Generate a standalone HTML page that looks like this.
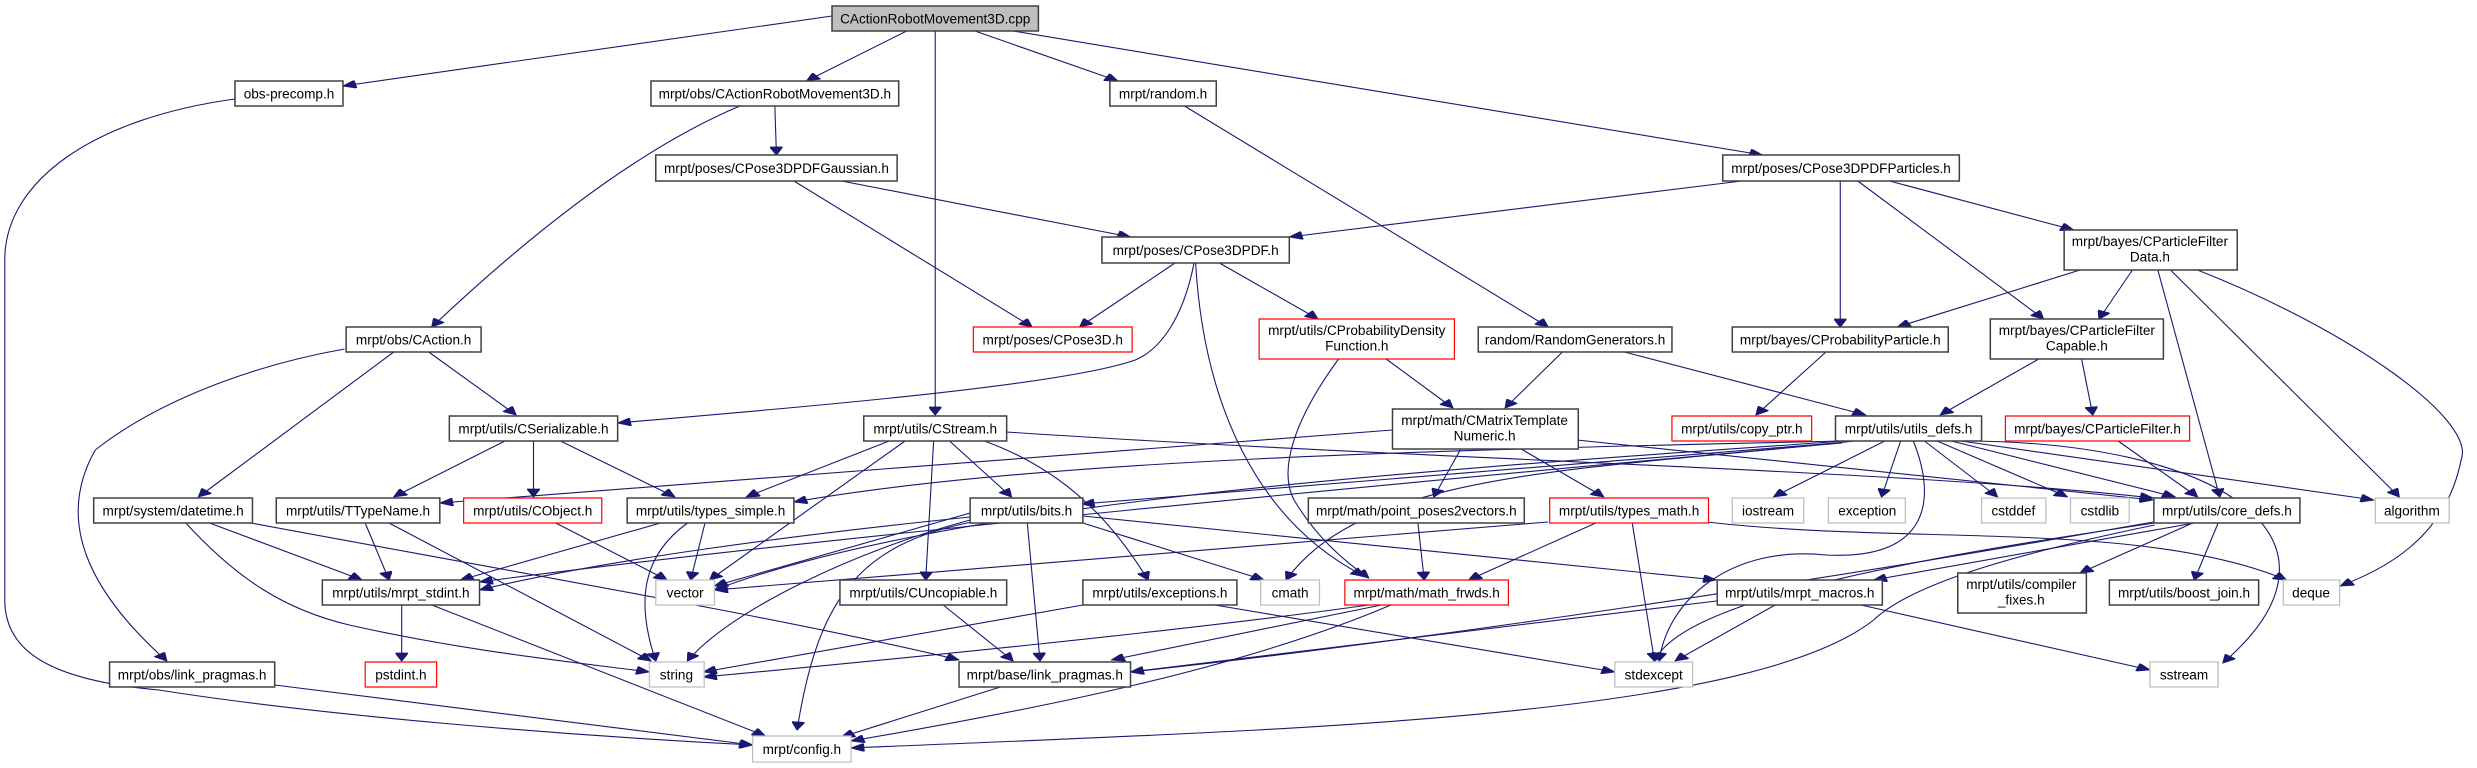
<!DOCTYPE html>
<html><head><meta charset="utf-8"><style>
html,body{margin:0;padding:0;background:#fff;}
svg{display:block;}
text{font-family:"Liberation Sans",Arial,sans-serif;font-size:13.6px;text-anchor:middle;fill:#000;}
.e{fill:none;stroke:#191970;stroke-width:1.1;vector-effect:non-scaling-stroke;}
.n{fill:#fff;stroke:#404040;stroke-width:1.5;vector-effect:non-scaling-stroke;}
.r{fill:#fff;stroke:#ff0000;stroke-width:1.2;vector-effect:non-scaling-stroke;}
.g{fill:#fff;stroke:#bfbfbf;stroke-width:1.3;vector-effect:non-scaling-stroke;}
</style></head><body>
<svg width="2477" height="768" viewBox="0 0 2477 768">
<defs>
<marker id="a" viewBox="0 0 10 10" refX="10" refY="5" markerWidth="9" markerHeight="8" markerUnits="userSpaceOnUse" orient="auto"><path d="M0,0 L10,5 L0,10 z" fill="#191970" stroke="#191970"/></marker>
</defs>
<g transform="scale(1.5878,1)">
<g marker-end="url(#a)">
<path class="e" d="M524,16 L216,86"/>
<path class="e" d="M571,31 L508,81"/>
<path class="e" d="M589,31 L589,415"/>
<path class="e" d="M614,31 L704,81"/>
<path class="e" d="M638,31 L1110,155"/>
<path class="e" d="M466,106 C400,150 330,240 272,327"/>
<path class="e" d="M488,106 L489,155"/>
<path class="e" d="M148,99 C60,118 3,180 3,260 L3,600 C3,650 30,680 100,690 C200,715 350,735 474,745"/>
<path class="e" d="M530,181 L712,237"/>
<path class="e" d="M500,181 L650,327"/>
<path class="e" d="M746,106 L975,327"/>
<path class="e" d="M1097,181 L812,237"/>
<path class="e" d="M1159,181 L1159,327"/>
<path class="e" d="M1170,181 L1287,319"/>
<path class="e" d="M1190,181 L1306,230"/>
<path class="e" d="M740,263 L680,327"/>
<path class="e" d="M768,263 L830,319"/>
<path class="e" d="M752,263 C745,320 730,350 715,360 C670,385 520,405 389,423"/>
<path class="e" d="M753,263 C758,400 790,520 859,576"/>
<path class="e" d="M873,359 L915,408"/>
<path class="e" d="M843,359 C815,420 805,470 815,500 C830,540 850,565 862,578"/>
<path class="e" d="M984,352 L948,408"/>
<path class="e" d="M1023,352 L1175,415"/>
<path class="e" d="M1310,270 L1195,327"/>
<path class="e" d="M1343,270 L1322,319"/>
<path class="e" d="M1359,270 L1398,497"/>
<path class="e" d="M1367,270 L1511,497"/>
<path class="e" d="M1384,270 C1480,330 1560,420 1550,460 C1540,540 1500,570 1474,586"/>
<path class="e" d="M1150,352 L1106,415"/>
<path class="e" d="M1284,359 L1222,415"/>
<path class="e" d="M1311,359 L1318,415"/>
<path class="e" d="M1334,441 L1384,497"/>
<path class="e" d="M248,352 L125,497"/>
<path class="e" d="M270,352 L325,415"/>
<path class="e" d="M217,349 C160,365 100,400 60,450 C35,520 55,590 105,661"/>
<path class="e" d="M318,441 L248,497"/>
<path class="e" d="M336,441 L336,497"/>
<path class="e" d="M353,441 L425,497"/>
<path class="e" d="M560,441 L470,497"/>
<path class="e" d="M570,441 L447,580"/>
<path class="e" d="M598,441 L637,497"/>
<path class="e" d="M588,441 L583,580"/>
<path class="e" d="M620,441 C670,470 700,520 723,580"/>
<path class="e" d="M634,432 C900,460 1200,470 1356,498"/>
<path class="e" d="M877,430 L277,503"/>
<path class="e" d="M920,449 L903,497"/>
<path class="e" d="M958,449 L1010,497"/>
<path class="e" d="M993,440 L1356,500"/>
<path class="e" d="M230,523 L245,580"/>
<path class="e" d="M245,523 L410,661"/>
<path class="e" d="M132,523 L228,580"/>
<path class="e" d="M117,523 C150,580 180,610 220,625 C290,650 350,660 409,672"/>
<path class="e" d="M158,523 C300,565 500,620 604,660"/>
<path class="e" d="M416,523 L290,580"/>
<path class="e" d="M433,523 C405,555 400,600 413,661"/>
<path class="e" d="M444,523 L435,580"/>
<path class="e" d="M350,523 L420,580"/>
<path class="e" d="M253,605 L253,661"/>
<path class="e" d="M272,605 L482,736"/>
<path class="e" d="M173,685 L474,745"/>
<path class="e" d="M611,517 C500,535 380,560 302,590"/>
<path class="e" d="M611,513 L450,586"/>
<path class="e" d="M611,520 C540,550 460,610 433,661"/>
<path class="e" d="M682,523 L796,580"/>
<path class="e" d="M647,523 L655,661"/>
<path class="e" d="M682,516 L1081,580"/>
<path class="e" d="M612,522 C540,545 515,600 502,730"/>
<path class="e" d="M594,605 L638,661"/>
<path class="e" d="M682,605 L443,672"/>
<path class="e" d="M765,605 L1017,672"/>
<path class="e" d="M862,605 C750,630 560,660 443,677"/>
<path class="e" d="M870,605 L700,660"/>
<path class="e" d="M876,605 C780,670 650,710 536,741"/>
<path class="e" d="M630,687 L530,737"/>
<path class="e" d="M893,523 L897,580"/>
<path class="e" d="M1005,523 L925,580"/>
<path class="e" d="M1028,523 L1042,661"/>
<path class="e" d="M975,522 L450,590"/>
<path class="e" d="M1075,522 C1200,545 1350,520 1440,580"/>
<path class="e" d="M1160,441 C900,450 650,460 500,502"/>
<path class="e" d="M1162,441 C900,470 600,500 450,590"/>
<path class="e" d="M1156,443 L681,504"/>
<path class="e" d="M1168,441 C1000,470 860,470 810,580"/>
<path class="e" d="M1187,441 L1117,497"/>
<path class="e" d="M1197,441 L1185,497"/>
<path class="e" d="M1212,441 L1258,497"/>
<path class="e" d="M1220,441 L1302,497"/>
<path class="e" d="M1229,441 L1370,497"/>
<path class="e" d="M1235,441 L1495,500"/>
<path class="e" d="M1205,441 C1220,500 1215,560 1150,555 C1090,545 1050,600 1045,661"/>
<path class="e" d="M1233,441 C1400,440 1490,540 1400,663"/>
<path class="e" d="M1160,443 C900,480 500,540 302,582"/>
<path class="e" d="M1382,523 L1180,580"/>
<path class="e" d="M1381,523 L1310,573"/>
<path class="e" d="M1397,523 L1382,580"/>
<path class="e" d="M1357,525 C1250,560 1200,590 1180,620 C1100,720 800,730 536,748"/>
<path class="e" d="M1356,522 C1150,580 900,640 712,672"/>
<path class="e" d="M1357,523 C1200,560 1060,600 1042,661"/>
<path class="e" d="M1118,605 L1055,661"/>
<path class="e" d="M1172,605 L1354,670"/>
<path class="e" d="M1081,601 L712,672"/>
</g>

<rect class="n" x="524" y="6" width="130" height="25" style="fill:#bfbfbf"/><text transform="translate(589,23.5) scale(0.6298,1)">CActionRobotMovement3D.cpp</text>
<rect class="n" x="148" y="81" width="68" height="25"/><text transform="translate(182,98.5) scale(0.6298,1)">obs-precomp.h</text>
<rect class="n" x="410" y="81" width="156" height="25"/><text transform="translate(488,98.5) scale(0.6298,1)">mrpt/obs/CActionRobotMovement3D.h</text>
<rect class="n" x="699" y="81" width="67" height="25"/><text transform="translate(732.5,98.5) scale(0.6298,1)">mrpt/random.h</text>
<rect class="n" x="413" y="155" width="152" height="26"/><text transform="translate(489,173) scale(0.6298,1)">mrpt/poses/CPose3DPDFGaussian.h</text>
<rect class="n" x="1085" y="155" width="149" height="26"/><text transform="translate(1159.5,173) scale(0.6298,1)">mrpt/poses/CPose3DPDFParticles.h</text>
<rect class="n" x="694" y="237" width="118" height="26"/><text transform="translate(753,255) scale(0.6298,1)">mrpt/poses/CPose3DPDF.h</text>
<rect class="n" x="1300" y="230" width="109" height="40"/><text transform="translate(1354,246) scale(0.6298,1)">mrpt/bayes/CParticleFilter</text><text transform="translate(1354,261.5) scale(0.6298,1)">Data.h</text>
<rect class="n" x="218" y="327" width="85" height="25"/><text transform="translate(260.5,344.5) scale(0.6298,1)">mrpt/obs/CAction.h</text>
<rect class="r" x="613" y="327" width="100" height="25"/><text transform="translate(663,344.5) scale(0.6298,1)">mrpt/poses/CPose3D.h</text>
<rect class="r" x="793" y="319" width="123" height="40"/><text transform="translate(854.5,335) scale(0.6298,1)">mrpt/utils/CProbabilityDensity</text><text transform="translate(854.5,350.5) scale(0.6298,1)">Function.h</text>
<rect class="n" x="931" y="327" width="122" height="25"/><text transform="translate(992,344.5) scale(0.6298,1)">random/RandomGenerators.h</text>
<rect class="n" x="1091" y="327" width="136" height="25"/><text transform="translate(1159,344.5) scale(0.6298,1)">mrpt/bayes/CProbabilityParticle.h</text>
<rect class="n" x="1253.5" y="319" width="109" height="40"/><text transform="translate(1308,335) scale(0.6298,1)">mrpt/bayes/CParticleFilter</text><text transform="translate(1308,350.5) scale(0.6298,1)">Capable.h</text>
<rect class="n" x="283" y="416" width="106" height="25"/><text transform="translate(336,433.5) scale(0.6298,1)">mrpt/utils/CSerializable.h</text>
<rect class="n" x="544" y="416" width="90" height="25"/><text transform="translate(589,433.5) scale(0.6298,1)">mrpt/utils/CStream.h</text>
<rect class="n" x="877" y="409" width="117" height="40"/><text transform="translate(935,425) scale(0.6298,1)">mrpt/math/CMatrixTemplate</text><text transform="translate(935,440.5) scale(0.6298,1)">Numeric.h</text>
<rect class="r" x="1053" y="416" width="88" height="25"/><text transform="translate(1097,433.5) scale(0.6298,1)">mrpt/utils/copy_ptr.h</text>
<rect class="n" x="1156" y="416" width="92" height="25"/><text transform="translate(1202,433.5) scale(0.6298,1)">mrpt/utils/utils_defs.h</text>
<rect class="r" x="1263" y="416" width="116" height="25"/><text transform="translate(1321,433.5) scale(0.6298,1)">mrpt/bayes/CParticleFilter.h</text>
<rect class="n" x="59" y="498" width="100" height="25"/><text transform="translate(109,515.5) scale(0.6298,1)">mrpt/system/datetime.h</text>
<rect class="n" x="174" y="498" width="103" height="25"/><text transform="translate(225.5,515.5) scale(0.6298,1)">mrpt/utils/TTypeName.h</text>
<rect class="r" x="292" y="498" width="87" height="25"/><text transform="translate(335.5,515.5) scale(0.6298,1)">mrpt/utils/CObject.h</text>
<rect class="n" x="395" y="498" width="105" height="25"/><text transform="translate(447.5,515.5) scale(0.6298,1)">mrpt/utils/types_simple.h</text>
<rect class="n" x="611" y="498" width="71" height="25"/><text transform="translate(646.5,515.5) scale(0.6298,1)">mrpt/utils/bits.h</text>
<rect class="n" x="824" y="498" width="136" height="25"/><text transform="translate(892,515.5) scale(0.6298,1)">mrpt/math/point_poses2vectors.h</text>
<rect class="r" x="976" y="498" width="100" height="25"/><text transform="translate(1026,515.5) scale(0.6298,1)">mrpt/utils/types_math.h</text>
<rect class="g" x="1091" y="498" width="45" height="25"/><text transform="translate(1113.5,515.5) scale(0.6298,1)">iostream</text>
<rect class="g" x="1151.5" y="498" width="48.5" height="25"/><text transform="translate(1176,515.5) scale(0.6298,1)">exception</text>
<rect class="g" x="1248" y="498" width="40.5" height="25"/><text transform="translate(1268,515.5) scale(0.6298,1)">cstddef</text>
<rect class="g" x="1304" y="498" width="37" height="25"/><text transform="translate(1322.5,515.5) scale(0.6298,1)">cstdlib</text>
<rect class="n" x="1356.5" y="498" width="92" height="25"/><text transform="translate(1402.5,515.5) scale(0.6298,1)">mrpt/utils/core_defs.h</text>
<rect class="g" x="1496" y="498" width="46.5" height="25"/><text transform="translate(1519,515.5) scale(0.6298,1)">algorithm</text>
<rect class="n" x="203" y="580" width="99" height="25"/><text transform="translate(252.5,597.5) scale(0.6298,1)">mrpt/utils/mrpt_stdint.h</text>
<rect class="g" x="413" y="580" width="37" height="25"/><text transform="translate(431.5,597.5) scale(0.6298,1)">vector</text>
<rect class="n" x="529" y="580" width="105" height="25"/><text transform="translate(581.5,597.5) scale(0.6298,1)">mrpt/utils/CUncopiable.h</text>
<rect class="n" x="682" y="580" width="97" height="25"/><text transform="translate(730.5,597.5) scale(0.6298,1)">mrpt/utils/exceptions.h</text>
<rect class="g" x="794" y="580" width="37" height="25"/><text transform="translate(812.5,597.5) scale(0.6298,1)">cmath</text>
<rect class="r" x="847" y="580" width="103" height="25"/><text transform="translate(898.5,597.5) scale(0.6298,1)">mrpt/math/math_frwds.h</text>
<rect class="n" x="1081.5" y="580" width="104" height="25"/><text transform="translate(1133.5,597.5) scale(0.6298,1)">mrpt/utils/mrpt_macros.h</text>
<rect class="n" x="1233" y="573" width="81" height="40"/><text transform="translate(1273,589) scale(0.6298,1)">mrpt/utils/compiler</text><text transform="translate(1273,604.5) scale(0.6298,1)">_fixes.h</text>
<rect class="n" x="1328.5" y="580" width="94" height="25"/><text transform="translate(1375.5,597.5) scale(0.6298,1)">mrpt/utils/boost_join.h</text>
<rect class="g" x="1438" y="580" width="35.5" height="25"/><text transform="translate(1455.5,597.5) scale(0.6298,1)">deque</text>
<rect class="n" x="69" y="662" width="104" height="25"/><text transform="translate(121,679.5) scale(0.6298,1)">mrpt/obs/link_pragmas.h</text>
<rect class="r" x="230" y="662" width="45" height="25"/><text transform="translate(252.5,679.5) scale(0.6298,1)">pstdint.h</text>
<rect class="g" x="409" y="662" width="34.5" height="25"/><text transform="translate(426,679.5) scale(0.6298,1)">string</text>
<rect class="n" x="604" y="662" width="108" height="25"/><text transform="translate(658,679.5) scale(0.6298,1)">mrpt/base/link_pragmas.h</text>
<rect class="g" x="1017" y="662" width="49" height="25"/><text transform="translate(1041.5,679.5) scale(0.6298,1)">stdexcept</text>
<rect class="g" x="1354" y="662" width="43" height="25"/><text transform="translate(1375.5,679.5) scale(0.6298,1)">sstream</text>
<rect class="g" x="474" y="736" width="62" height="26"/><text transform="translate(505,754) scale(0.6298,1)">mrpt/config.h</text>
</g>
</svg>
</body></html>
